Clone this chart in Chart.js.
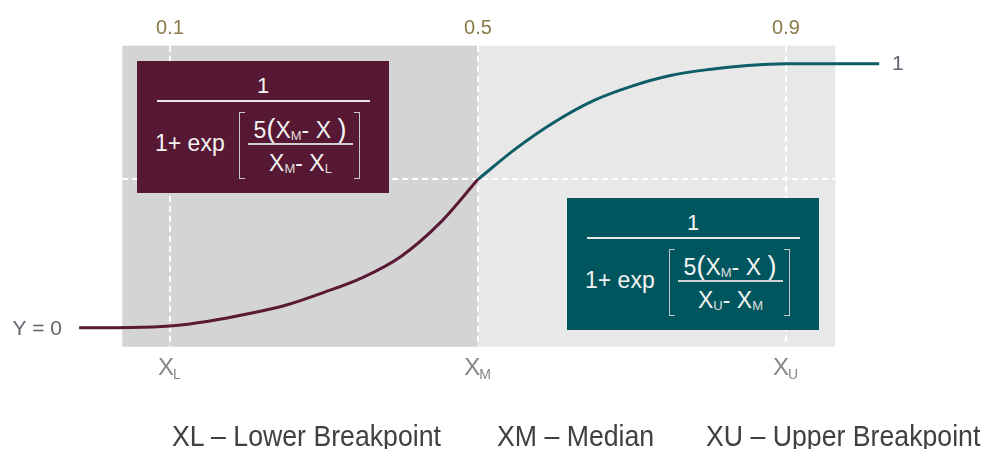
<!DOCTYPE html>
<html lang="en">

<head>
    <meta charset="UTF-8">
    <title>Breakpoint curve</title>
    <style>
        body { margin: 0; background: #fff; }
        #wrap { position: relative; width: 983px; height: 449px; overflow: hidden; font-family: 'Liberation Sans', Arial, sans-serif; }
        .box { position: absolute; width: 252px; height: 132px; color: #f4f4f4; }
        .box div { position: absolute; white-space: nowrap; }
        .box .one { left: 0; width: 252px; text-align: center; top: 12px; font-size: 22px; line-height: 26px; }
        .box .bar { left: 20px; width: 213px; top: 39px; height: 2px; background: #e8e8e8; }
        .box .lead { left: 18px; top: 69px; font-size: 23px; line-height: 26px; }
        .box .brk { top: 51px; height: 65px; width: 5px; border: 1px solid #c8c8c8; }
        .box .brk.l { left: 102px; border-right: none; }
        .box .brk.r { left: 217px; border-left: none; }
        .box .num { left: 108px; width: 110px; text-align: center; top: 55px; font-size: 23px; line-height: 26px; }
        .box .num .p { font-size: 27px; }
        .box .bar2 { left: 111px; width: 105px; top: 82px; height: 2px; background: #d0d0d0; }
        .box .den { left: 111px; width: 105px; text-align: center; top: 89px; font-size: 23px; line-height: 26px; }
        .box sub { font-size: 13px; vertical-align: baseline; position: relative; top: 2px; color: #dedede; }
        .note { position: absolute; top: 420px; font-size: 29px; line-height: 32px; color: #404040; transform-origin: 0 0; transform: scaleX(0.92); white-space: nowrap; }
    </style>
</head>

<body>
    <div id="wrap">
        <canvas id="myChart01" width="983" height="449"></canvas>

        <div class="box" style="left:137px;top:61px;background:#561832;">
            <div class="one">1</div>
            <div class="bar"></div>
            <div class="lead">1+ exp</div>
            <div class="brk l"></div><div class="brk r"></div>
            <div class="num">5<span class="p">(</span>X<sub>M</sub>- X <span class="p">)</span></div>
            <div class="bar2"></div>
            <div class="den">X<sub>M</sub>- X<sub>L</sub></div>
        </div>

        <div class="box" style="left:567px;top:198px;background:#00565f;">
            <div class="one">1</div>
            <div class="bar"></div>
            <div class="lead">1+ exp</div>
            <div class="brk l"></div><div class="brk r"></div>
            <div class="num">5<span class="p">(</span>X<sub>M</sub>- X <span class="p">)</span></div>
            <div class="bar2"></div>
            <div class="den">X<sub>U</sub>- X<sub>M</sub></div>
        </div>

        <div class="note" style="left:172px;">XL – Lower Breakpoint</div>
        <div class="note" style="left:497px;">XM – Median</div>
        <div class="note" style="left:706px;">XU – Upper Breakpoint</div>
    </div>

    <script src="https://cdn.jsdelivr.net/npm/chart.js"></script>
    <script>
        // 曲線資料
        var lowerX = [-0.018, 0.05, 0.1, 0.15, 0.2, 0.25, 0.3, 0.35, 0.4, 0.45, 0.5];
        var lowerY = [0, 0.001, 0.007, 0.025, 0.052, 0.085, 0.134, 0.19, 0.27, 0.395, 0.562];
        var upperX = [0.5, 0.55, 0.6, 0.65, 0.7, 0.75, 0.8, 0.85, 0.9, 1.021];
        var upperY = [0.562, 0.68, 0.78, 0.86, 0.915, 0.955, 0.978, 0.993, 1, 1];

        // 刻度
        var tickValues = [0.1, 0.5, 0.9];
        var tickLabels = ['0.1', '0.5', '0.9'];
        var tickNames = ['L', 'M', 'U'];

        // 背景區塊
        var bandFrom = [0.038, 0.5];
        var bandTo = [0.5, 0.964];
        var bandLow = -0.072;
        var bandHigh = 1.068;
        var midLevel = 0.562;
        var endLabels = ['Y = 0', '1'];

        function toPoints(xs, ys) {
            return xs.map(function (x, i) { return { x: x, y: ys[i] }; });
        }

        var backdrop = {
            id: 'backdrop',
            beforeDatasetsDraw: function (chart) {
                var ctx = chart.ctx;
                var xs = chart.scales.x, ys = chart.scales.y;
                var colors = ['#d4d4d4', '#e8e8e8'];
                var top = ys.getPixelForValue(bandHigh), bottom = ys.getPixelForValue(bandLow);
                ctx.save();
                bandFrom.forEach(function (v, i) {
                    var a = xs.getPixelForValue(v), b = xs.getPixelForValue(bandTo[i]);
                    ctx.fillStyle = colors[i];
                    ctx.fillRect(a, top, b - a, bottom - top);
                });
                // 白色虛線
                ctx.strokeStyle = '#ffffff';
                ctx.lineWidth = 2;
                ctx.setLineDash([6, 4]);
                tickValues.forEach(function (v) {
                    var px = Math.round(xs.getPixelForValue(v));
                    ctx.beginPath();
                    ctx.moveTo(px, top);
                    ctx.lineTo(px, bottom);
                    ctx.stroke();
                });
                var py = Math.round(ys.getPixelForValue(midLevel));
                ctx.beginPath();
                ctx.moveTo(xs.getPixelForValue(bandFrom[0]), py);
                ctx.lineTo(xs.getPixelForValue(bandTo[1]), py);
                ctx.stroke();
                ctx.restore();
            },
            afterDatasetsDraw: function (chart) {
                var ctx = chart.ctx;
                var xs = chart.scales.x, ys = chart.scales.y;
                ctx.save();
                // X_L X_M X_U
                ctx.fillStyle = '#858585';
                ctx.textBaseline = 'alphabetic';
                ctx.textAlign = 'left';
                tickValues.forEach(function (v, i) {
                    var px = xs.getPixelForValue(v);
                    ctx.font = '24px "Liberation Sans", Arial';
                    var w1 = ctx.measureText('X').width;
                    ctx.font = '14px "Liberation Sans", Arial';
                    var w2 = ctx.measureText(tickNames[i]).width;
                    var x0 = px - (w1 + w2) / 2;
                    ctx.font = '24px "Liberation Sans", Arial';
                    ctx.fillText('X', x0, 375);
                    ctx.font = '14px "Liberation Sans", Arial';
                    ctx.fillText(tickNames[i], x0 + w1 - 1, 379);
                });
                // Y = 0 與 1
                ctx.fillStyle = '#62666e';
                ctx.font = '21px "Liberation Sans", Arial';
                ctx.textBaseline = 'middle';
                ctx.textAlign = 'right';
                ctx.fillText(endLabels[0], 62, ys.getPixelForValue(0) + 1);
                ctx.textAlign = 'left';
                ctx.fillText(endLabels[1], 892, ys.getPixelForValue(1) + 1);
                ctx.restore();
            }
        };

        var ctx01 = document.getElementById('myChart01');
        var chart01 = new Chart(ctx01, {
            type: 'line',
            data: {
                datasets: [{
                    data: toPoints(lowerX, lowerY),
                    borderColor: '#5a1a36',
                    borderWidth: 3,
                    pointRadius: 0,
                    cubicInterpolationMode: 'monotone'
                }, {
                    data: toPoints(upperX, upperY),
                    borderColor: '#0d5e66',
                    borderWidth: 3,
                    pointRadius: 0,
                    cubicInterpolationMode: 'monotone'
                }]
            },
            options: {
                responsive: false,
                animation: false,
                layout: {
                    padding: { left: 77.6, right: 89.2, top: 14.5, bottom: 100.1 }
                },
                plugins: {
                    legend: { display: false },
                    tooltip: { enabled: false }
                },
                scales: {
                    x: {
                        type: 'linear',
                        position: 'top',
                        min: -0.02,
                        max: 1.04,
                        grid: { display: false, drawTicks: false },
                        border: { display: false },
                        afterBuildTicks: function (scale) {
                            scale.ticks = tickValues.map(function (v) { return { value: v }; });
                        },
                        ticks: {
                            autoSkip: false,
                            maxRotation: 0,
                            padding: 2,
                            color: '#8a7a48',
                            font: { family: '"Liberation Sans", Arial', size: 20 },
                            callback: function (v, i) { return tickLabels[i]; }
                        }
                    },
                    y: {
                        display: false,
                        min: -0.08,
                        max: 1.08
                    }
                }
            },
            plugins: [backdrop]
        });
    </script>
</body>

</html>
